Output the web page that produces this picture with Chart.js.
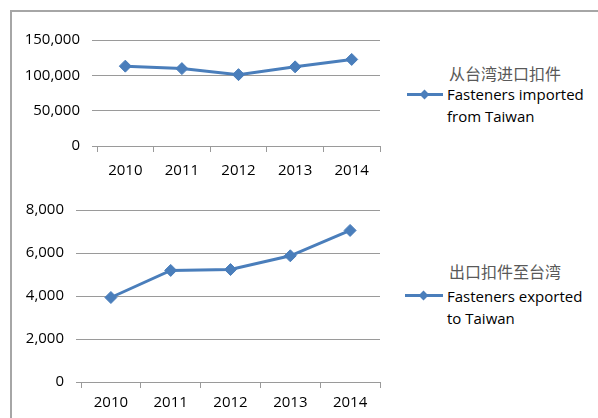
<!DOCTYPE html>
<html>
<head>
<meta charset="utf-8">
<script src="https://cdn.jsdelivr.net/npm/chart.js@4.4.1/dist/chart.umd.min.js"></script>
<style>
  body { margin: 0; background: #fff; }
  #wrap { position: relative; width: 598px; height: 418px; overflow: hidden; }
  #frame { position: absolute; left: 10px; top: 10px; width: 600px; height: 420px;
           border-left: 2px solid #a6a6a6; border-top: 2px solid #a6a6a6; }
  .cv { position: absolute; left: 10px; }
  .lg-title { position: absolute; width: 140px; text-align: center; color: #595959;
              font: 16px "Noto Sans CJK SC", sans-serif; }
  .lg-text { position: absolute; left: 447px; color: #000; line-height: 22px;
             font: 15px "Open Sans", sans-serif; line-height: 22px; }
  .lg-line { position: absolute; height: 3px; background: #4a7ebb; }
  .lg-dot { position: absolute; width: 7px; height: 7px; background: #4a7ebb; transform: rotate(45deg); }
</style>
</head>
<body>
<div id="wrap">
  <div id="frame"></div>
  <canvas id="topChart" class="cv" style="top:10px" width="380" height="175"></canvas>
  <canvas id="bottomChart" class="cv" style="top:185px" width="380" height="233"></canvas>

  <div class="lg-title" style="left:435px; top:61px">从台湾进口扣件</div>
  <div class="lg-line" style="left:407px; top:93px; width:36px"></div>
  <div class="lg-dot" style="left:421px; top:91px"></div>
  <div class="lg-text" style="top:83px">Fasteners imported<br>from Taiwan</div>

  <div class="lg-title" style="left:435px; top:259px">出口扣件至台湾</div>
  <div class="lg-line" style="left:405px; top:294px; width:38px"></div>
  <div class="lg-dot" style="left:420px; top:292px"></div>
  <div class="lg-text" style="top:285px">Fasteners exported<br>to Taiwan</div>
</div>
<script>
const years = ['2010', '2011', '2012', '2013', '2014'];
const imported = [113000, 109500, 101000, 112000, 122500];
const exported = [3930, 5190, 5230, 5870, 7050];
const importedTicks = [0, 50000, 100000, 150000];
const exportedTicks = [0, 2000, 4000, 6000, 8000];

const blue = '#4a7ebb';
const gridColor = '#9a9a9a';
const tickFont = { family: 'Open Sans', size: 15 };

function makeChart(id, values, tickVals, yWidth, xHeight, xPad, padTop) {
  const ctx = document.getElementById(id).getContext('2d');
  return new Chart(ctx, {
    type: 'line',
    data: {
      labels: years,
      datasets: [{
        data: values,
        borderColor: blue,
        backgroundColor: blue,
        borderWidth: 3,
        pointStyle: 'rectRot',
        pointRadius: 6,
        pointBorderWidth: 1,
        tension: 0
      }]
    },
    options: {
      responsive: false,
      animation: false,
      layout: { padding: { top: padTop, right: 10, left: 0, bottom: 0 } },
      plugins: { legend: { display: false }, tooltip: { enabled: false } },
      scales: {
        x: {
          offset: true,
          grid: { offset: true, drawOnChartArea: false, drawTicks: true, tickLength: 6, color: gridColor },
          border: { display: true, color: gridColor },
          ticks: { color: '#000', font: tickFont, padding: xPad, maxRotation: 0 },
          afterFit: s => { s.height = xHeight; }
        },
        y: {
          min: 0,
          max: tickVals[tickVals.length - 1],
          afterBuildTicks: s => { s.ticks = tickVals.map(v => ({ value: v })); },
          grid: { color: gridColor, tickLength: 5 },
          border: { display: false },
          ticks: {
            color: '#000', font: tickFont, padding: 12,
            callback: v => v.toLocaleString('en-US')
          },
          afterFit: s => { s.width = yWidth; }
        }
      }
    }
  });
}

makeChart('topChart', imported, importedTicks, 87, 39, 10, 30);
makeChart('bottomChart', exported, exportedTicks, 71, 36, 6, 25);
</script>
</body>
</html>
